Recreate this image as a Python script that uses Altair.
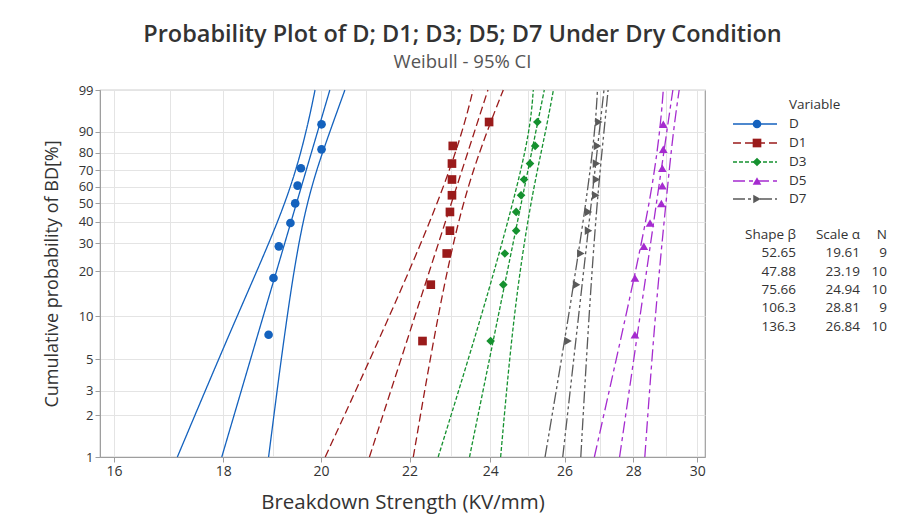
import math
import altair as alt
import pandas as pd

# ---------------- data ----------------
series = ["D", "D1", "D3", "D5", "D7"]
colors = ["#1462BE", "#9A1B1B", "#15912F", "#A52BCF", "#5A5A5A"]
shapes = ["circle", "square", "diamond", "triangle-up", "triangle-right"]
dashes = [[1, 0], [8, 4], [4, 2], [12, 4, 4, 4], [12, 3, 3, 3, 3, 3]]

# observed breakdown strengths (KV/mm), sorted
d_vals = [18.90, 19.00, 19.11, 19.35, 19.45, 19.50, 19.57, 20.01, 20.01]
d1_vals = [22.31, 22.51, 22.90, 22.98, 22.98, 23.03, 23.03, 23.03, 23.05, 23.97]
d3_vals = [24.01, 24.34, 24.38, 24.68, 24.68, 24.81, 24.89, 25.05, 25.19, 25.25]
d5_vals = [28.05, 28.05, 28.32, 28.51, 28.86, 28.89, 28.89, 28.92, 28.92]
d7_vals = [26.10, 26.34, 26.46, 26.68, 26.68, 26.89, 26.91, 26.91, 26.94, 26.98]

# plotting positions (%) for N = 9 and N = 10
rank_pct_9 = [7.45, 18.09, 28.72, 39.36, 50.00, 60.64, 71.28, 81.91, 92.55]
rank_pct_10 = [6.73, 16.35, 25.96, 35.58, 45.19, 54.81, 64.42, 74.04, 83.65, 93.27]

# fitted line ends (x at 1% and 99%)
fit_p = [1, 99]
d_fit = [17.97, 20.19]
d1_fit = [21.07, 23.94]
d3_fit = [23.47, 25.44]
d5_fit = [27.59, 29.22]
d7_fit = [25.95, 27.13]

# 95% CI curves read at these percentages
ci_p = [1, 10, 50, 90, 99]
d_lo = [17.13, 18.26, 19.28, 19.69, 19.87]
d_hi = [18.90, 19.27, 19.65, 20.19, 20.52]
d1_lo = [20.09, 21.54, 22.69, 23.30, 23.56]
d1_hi = [22.09, 22.67, 23.27, 23.91, 24.34]
d3_lo = [22.69, 23.78, 24.60, 25.05, 25.14]
d3_hi = [24.27, 24.60, 25.05, 25.48, 25.69]
d5_lo = [26.85, 27.78, 28.51, 28.82, 28.92]
d5_hi = [28.35, 28.66, 29.00, 29.23, 29.42]
d7_lo = [25.46, 26.12, 26.61, 26.87, 26.94]
d7_hi = [26.46, 26.69, 26.92, 27.13, 27.25]

# table
shape_beta = ["52.65", "47.88", "75.66", "106.3", "136.3"]
scale_alpha = ["19.61", "23.19", "24.94", "28.81", "26.84"]
n_obs = ["9", "10", "10", "9", "10"]

x_ticks = list(range(16, 31))
y_ticks = [1, 2, 3, 5, 10, 20, 30, 40, 50, 60, 70, 80, 90, 99]

# ---------------- tables ----------------
vals = [d_vals, d1_vals, d3_vals, d5_vals, d7_vals]
fits = [d_fit, d1_fit, d3_fit, d5_fit, d7_fit]
los = [d_lo, d1_lo, d3_lo, d5_lo, d7_lo]
his = [d_hi, d1_hi, d3_hi, d5_hi, d7_hi]

pts = []
for s, v in zip(series, vals):
    ranks = rank_pct_9 if len(v) == 9 else rank_pct_10
    for x, p in zip(v, ranks):
        pts.append({"Variable": s, "x": x, "p": p})
pts = pd.DataFrame(pts)

lines = []
for s, f, lo, hi in zip(series, fits, los, his):
    for x, p in zip(f, fit_p):
        lines.append({"Variable": s, "part": s + "fit", "x": x, "p": p})
    for x, p in zip(lo, ci_p):
        lines.append({"Variable": s, "part": s + "lo", "x": x, "p": p})
    for x, p in zip(hi, ci_p):
        lines.append({"Variable": s, "part": s + "hi", "x": x, "p": p})
lines = pd.DataFrame(lines)


def wt(p):
    return math.log(-math.log(1 - p / 100.0))


FONT = "Open Sans"
TXT = "#333333"

xscale = alt.Scale(type="log", domain=[15.76, 30.25], nice=False, zero=False)
yscale = alt.Scale(domain=[wt(1), wt(99)], nice=False, zero=False)
color_scale = alt.Scale(domain=series, range=colors)
shape_scale = alt.Scale(domain=series, range=shapes)
dash_scale = alt.Scale(domain=series, range=dashes)

x_axis = alt.Axis(
    values=x_ticks, tickCount=40,
    labelExpr="datum.value % 2 == 0 ? format(datum.value, 'd') : ''",
    labelOverlap=False, labelFontSize=14,
    grid=True, gridColor="#E4E4E4",
    tickOpacity={"condition": {"test": "datum.value % 2 == 0", "value": 1}, "value": 0},
    title="Breakdown Strength (KV/mm)", titlePadding=14, titleFontSize=20.5,
)
y_axis = alt.Axis(
    values=[wt(p) for p in y_ticks], tickCount=40,
    labelExpr="format(100*(1-exp(-exp(datum.value))), '.0f')",
    labelOverlap=False, labelFontSize=13,
    grid=True, gridColor="#E4E4E4",
    title="Cumulative probability of BD[%]", titlePadding=17, titleFontSize=18,
)

calc = "log(-log(1 - datum.p/100))"

line_layer = alt.Chart(lines).transform_calculate(w=calc).mark_line(
    strokeWidth=1.3, interpolate="basis"
).encode(
    x=alt.X("x:Q", scale=xscale, axis=x_axis),
    y=alt.Y("w:Q", scale=yscale, axis=y_axis),
    color=alt.Color("Variable:N", scale=color_scale, legend=None),
    strokeDash=alt.StrokeDash("Variable:N", scale=dash_scale, legend=None),
    detail="part:N",
    order=alt.Order("p:Q"),
)

point_layer = alt.Chart(pts).transform_calculate(w=calc).mark_point(
    filled=True, size=75, opacity=1
).encode(
    x=alt.X("x:Q", scale=xscale),
    y=alt.Y("w:Q", scale=yscale),
    color=alt.Color("Variable:N", scale=color_scale, legend=None),
    shape=alt.Shape("Variable:N", scale=shape_scale, legend=None),
)

main = alt.layer(line_layer, point_layer)

# ---------------- legend & table ----------------
LFS = 13.5
leg_rows = pd.DataFrame({"Variable": series, "ly": [34, 53, 72, 91, 109]})
ly_scale = alt.Scale(domain=[0, 367], reverse=True, nice=False, zero=False)
ly = alt.Y("ly:Q", scale=ly_scale, axis=None)

leg_rule = alt.Chart(leg_rows).mark_rule(strokeWidth=1.3).encode(
    x=alt.value(633), x2=alt.value(677), y=ly,
    color=alt.Color("Variable:N", scale=color_scale, legend=None),
    strokeDash=alt.StrokeDash("Variable:N", scale=dash_scale, legend=None),
)
leg_pt = alt.Chart(leg_rows).mark_point(filled=True, size=75, opacity=1).encode(
    x=alt.value(657), y=ly,
    color=alt.Color("Variable:N", scale=color_scale, legend=None),
    shape=alt.Shape("Variable:N", scale=shape_scale, legend=None),
)
leg_txt = alt.Chart(leg_rows).mark_text(
    align="left", baseline="middle", font=FONT, fontSize=LFS, color=TXT
).encode(x=alt.value(689), y=ly, text="Variable:N")

leg_head = alt.Chart(pd.DataFrame({"t": ["Variable"], "ly": [15]})).mark_text(
    align="left", baseline="middle", font=FONT, fontSize=LFS, color=TXT
).encode(x=alt.value(689), y=ly, text="t:N")

table = pd.DataFrame({
    "b": ["Shape β"] + shape_beta,
    "a": ["Scale α"] + scale_alpha,
    "n": ["N"] + n_obs,
    "ly": [145, 163, 182, 200, 218, 237],
})
tab_b = alt.Chart(table).mark_text(align="right", baseline="middle", font=FONT, fontSize=LFS, color=TXT).encode(
    x=alt.value(696), y=ly, text="b:N")
tab_a = alt.Chart(table).mark_text(align="right", baseline="middle", font=FONT, fontSize=LFS, color=TXT).encode(
    x=alt.value(760), y=ly, text="a:N")
tab_n = alt.Chart(table).mark_text(align="right", baseline="middle", font=FONT, fontSize=LFS, color=TXT).encode(
    x=alt.value(787), y=ly, text="n:N")

legend = alt.layer(leg_rule, leg_pt, leg_txt, leg_head, tab_b, tab_a, tab_n)

chart = alt.layer(main, legend).resolve_scale(y="independent").properties(
    width=605, height=367,
    background="white",
    title=alt.TitleParams(
        text="Probability Plot of D; D1; D3; D5; D7 Under Dry Condition",
        subtitle="Weibull - 95% CI",
        font=FONT, fontSize=23.5, fontWeight=600, color=TXT,
        subtitleFont=FONT, subtitleFontSize=18.5, subtitleColor="#555555",
        anchor="middle", dx=60, offset=13, subtitlePadding=6,
    ),
    padding={"left": 100, "top": 90, "right": 201, "bottom": 66},
    autosize=alt.AutoSizeParams(type="none"),
).configure_view(stroke="#9E9E9E", strokeWidth=1.2).configure_axis(
    labelFont=FONT, labelColor=TXT,
    titleFont=FONT, titleFontWeight="normal", titleColor=TXT,
    domainColor="#9E9E9E", tickColor="#9E9E9E", tickSize=5,
)

chart.save("out.html", embed_options={"renderer": "svg", "actions": False})
